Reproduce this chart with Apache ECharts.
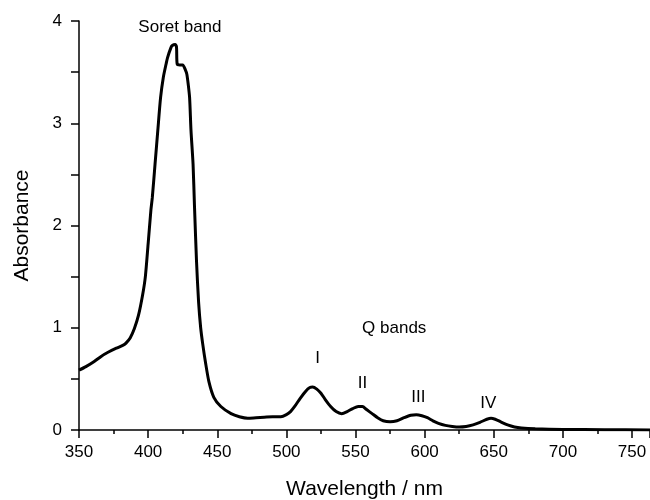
<!DOCTYPE html>
<html>
<head>
<meta charset="utf-8">
<script src="https://cdn.jsdelivr.net/npm/echarts@6/dist/echarts.min.js"></script>
<style>
  html, body { margin: 0; padding: 0; background: #fff; }
  #main { width: 650px; height: 500px; }
</style>
</head>
<body>
<div id="main"></div>
<script>
// wavelength (nm) and absorbance
var wavelength = [350, 355, 361, 366, 371, 377, 382, 384, 387, 390, 393, 396, 398, 400, 402, 403,
  405, 407, 409, 411, 413, 414, 416.5, 417.5, 419.5, 420.5, 421, 423, 425, 427, 428, 429, 430, 431,
  432.5, 433.5, 435, 436.5, 438, 439.5, 441.5, 444, 447.5, 452.6, 460, 466, 472, 478, 484, 490, 496,
  500, 503, 506, 510, 514, 517, 519, 522, 525, 528, 532, 536, 540, 544, 548, 552, 555, 558, 562,
  566, 570, 575, 580, 585, 590, 594, 598, 602, 606, 610, 615, 620, 625, 630, 635, 640, 645, 648,
  651, 655, 660, 665, 670, 680, 700, 730, 763];
var absorbance = [0.585, 0.62, 0.67, 0.72, 0.76, 0.80, 0.83, 0.85, 0.90, 0.99, 1.12, 1.32, 1.50, 1.82, 2.15, 2.27,
  2.60, 2.93, 3.25, 3.45, 3.58, 3.64, 3.74, 3.76, 3.77, 3.75, 3.58, 3.57, 3.57, 3.52, 3.48, 3.38, 3.25, 2.93,
  2.60, 2.20, 1.65, 1.25, 1.00, 0.84, 0.66, 0.47, 0.32, 0.23, 0.16, 0.13, 0.115, 0.12, 0.125, 0.13, 0.13,
  0.15, 0.18, 0.23, 0.31, 0.38, 0.415, 0.42, 0.40, 0.36, 0.30, 0.23, 0.18, 0.16, 0.18, 0.21, 0.23, 0.23, 0.20, 0.16,
  0.12, 0.09, 0.08, 0.09, 0.12, 0.145, 0.15, 0.14, 0.12, 0.09, 0.065, 0.045, 0.035, 0.03, 0.035, 0.05, 0.075, 0.105, 0.115,
  0.105, 0.08, 0.05, 0.03, 0.02, 0.012, 0.006, 0.003, 0];

// annotation texts and where they sit (in data units)
var noteText = ['Soret band', 'Q bands', 'I', 'II', 'III', 'IV'];
var noteX = [423, 578, 522.5, 555, 595.5, 646];
var noteY = [3.94, 0.99, 0.70, 0.46, 0.32, 0.26];

var myChart = echarts.init(document.getElementById('main'));

var points = wavelength.map(function (w, i) { return [w, absorbance[i]]; });
var notes = noteText.map(function (t, i) {
    return { name: t, coord: [noteX[i], noteY[i]] };
});

var black = { color: '#000', width: 1.5 };

var option = {
    animation: false,
    backgroundColor: '#fff',
    textStyle: { fontFamily: 'Liberation Sans, Arial, sans-serif' },
    grid: { left: 79, right: 0, top: 21, bottom: 70, containLabel: false, outerBoundsMode: 'none' },
    xAxis: {
        type: 'value',
        min: 350,
        max: 763,
        interval: 50,
        name: 'Wavelength / nm',
        nameLocation: 'middle',
        nameGap: 49,
        nameTextStyle: { fontSize: 21, color: '#000' },
        axisLine: { lineStyle: black },
        axisTick: { length: 8, lineStyle: black },
        minorTick: { show: true, splitNumber: 2, length: 4, lineStyle: black },
        axisLabel: { fontSize: 17, color: '#000', margin: 14, showMaxLabel: false },
        splitLine: { show: false }
    },
    yAxis: {
        type: 'value',
        min: 0,
        max: 4,
        interval: 1,
        name: 'Absorbance',
        nameLocation: 'middle',
        nameGap: 46,
        nameTextStyle: { fontSize: 21, color: '#000' },
        axisLine: { show: true, lineStyle: black },
        axisTick: { show: true, length: 8, lineStyle: black },
        minorTick: { show: true, splitNumber: 2, length: 8, lineStyle: black },
        axisLabel: { fontSize: 17, color: '#000', margin: 17 },
        splitLine: { show: false }
    },
    series: [{
        type: 'line',
        data: points,
        showSymbol: false,
        smooth: 0.25,
        lineStyle: { color: '#000', width: 3 },
        markPoint: {
            symbol: 'circle',
            symbolSize: 0,
            silent: true,
            label: {
                show: true,
                position: 'inside',
                formatter: '{b}',
                color: '#000',
                fontSize: 17
            },
            data: notes
        }
    }]
};

myChart.setOption(option);
</script>
</body>
</html>
